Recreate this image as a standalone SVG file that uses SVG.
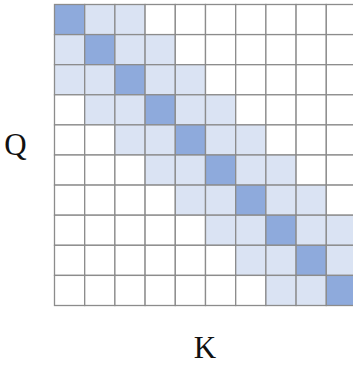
<svg xmlns="http://www.w3.org/2000/svg" width="353" height="368" viewBox="0 0 353 368">
<style>
.c{stroke:#8c8c8c;stroke-width:1.3;fill:#ffffff}
.l{fill:#dae3f3}
.d{fill:#8eaadc}
.t{font-family:"Liberation Serif","Times New Roman",serif;font-size:31px;fill:#111;text-anchor:middle}
</style>
<rect width="353" height="368" fill="#ffffff"/>
<g id="grid">
<g id="row0"><rect class="c d" x="54.5" y="4.5" width="30.2" height="30.1"/><rect class="c l" x="84.7" y="4.5" width="30.2" height="30.1"/><rect class="c l" x="114.9" y="4.5" width="30.2" height="30.1"/><rect class="c" x="145.1" y="4.5" width="30.2" height="30.1"/><rect class="c" x="175.3" y="4.5" width="30.2" height="30.1"/><rect class="c" x="205.5" y="4.5" width="30.2" height="30.1"/><rect class="c" x="235.7" y="4.5" width="30.2" height="30.1"/><rect class="c" x="265.9" y="4.5" width="30.2" height="30.1"/><rect class="c" x="296.1" y="4.5" width="30.2" height="30.1"/><rect class="c" x="326.3" y="4.5" width="30.2" height="30.1"/></g>
<g id="row1"><rect class="c l" x="54.5" y="34.6" width="30.2" height="30.1"/><rect class="c d" x="84.7" y="34.6" width="30.2" height="30.1"/><rect class="c l" x="114.9" y="34.6" width="30.2" height="30.1"/><rect class="c l" x="145.1" y="34.6" width="30.2" height="30.1"/><rect class="c" x="175.3" y="34.6" width="30.2" height="30.1"/><rect class="c" x="205.5" y="34.6" width="30.2" height="30.1"/><rect class="c" x="235.7" y="34.6" width="30.2" height="30.1"/><rect class="c" x="265.9" y="34.6" width="30.2" height="30.1"/><rect class="c" x="296.1" y="34.6" width="30.2" height="30.1"/><rect class="c" x="326.3" y="34.6" width="30.2" height="30.1"/></g>
<g id="row2"><rect class="c l" x="54.5" y="64.7" width="30.2" height="30.1"/><rect class="c l" x="84.7" y="64.7" width="30.2" height="30.1"/><rect class="c d" x="114.9" y="64.7" width="30.2" height="30.1"/><rect class="c l" x="145.1" y="64.7" width="30.2" height="30.1"/><rect class="c l" x="175.3" y="64.7" width="30.2" height="30.1"/><rect class="c" x="205.5" y="64.7" width="30.2" height="30.1"/><rect class="c" x="235.7" y="64.7" width="30.2" height="30.1"/><rect class="c" x="265.9" y="64.7" width="30.2" height="30.1"/><rect class="c" x="296.1" y="64.7" width="30.2" height="30.1"/><rect class="c" x="326.3" y="64.7" width="30.2" height="30.1"/></g>
<g id="row3"><rect class="c" x="54.5" y="94.8" width="30.2" height="30.1"/><rect class="c l" x="84.7" y="94.8" width="30.2" height="30.1"/><rect class="c l" x="114.9" y="94.8" width="30.2" height="30.1"/><rect class="c d" x="145.1" y="94.8" width="30.2" height="30.1"/><rect class="c l" x="175.3" y="94.8" width="30.2" height="30.1"/><rect class="c l" x="205.5" y="94.8" width="30.2" height="30.1"/><rect class="c" x="235.7" y="94.8" width="30.2" height="30.1"/><rect class="c" x="265.9" y="94.8" width="30.2" height="30.1"/><rect class="c" x="296.1" y="94.8" width="30.2" height="30.1"/><rect class="c" x="326.3" y="94.8" width="30.2" height="30.1"/></g>
<g id="row4"><rect class="c" x="54.5" y="124.9" width="30.2" height="30.1"/><rect class="c" x="84.7" y="124.9" width="30.2" height="30.1"/><rect class="c l" x="114.9" y="124.9" width="30.2" height="30.1"/><rect class="c l" x="145.1" y="124.9" width="30.2" height="30.1"/><rect class="c d" x="175.3" y="124.9" width="30.2" height="30.1"/><rect class="c l" x="205.5" y="124.9" width="30.2" height="30.1"/><rect class="c l" x="235.7" y="124.9" width="30.2" height="30.1"/><rect class="c" x="265.9" y="124.9" width="30.2" height="30.1"/><rect class="c" x="296.1" y="124.9" width="30.2" height="30.1"/><rect class="c" x="326.3" y="124.9" width="30.2" height="30.1"/></g>
<g id="row5"><rect class="c" x="54.5" y="155" width="30.2" height="30.1"/><rect class="c" x="84.7" y="155" width="30.2" height="30.1"/><rect class="c" x="114.9" y="155" width="30.2" height="30.1"/><rect class="c l" x="145.1" y="155" width="30.2" height="30.1"/><rect class="c l" x="175.3" y="155" width="30.2" height="30.1"/><rect class="c d" x="205.5" y="155" width="30.2" height="30.1"/><rect class="c l" x="235.7" y="155" width="30.2" height="30.1"/><rect class="c l" x="265.9" y="155" width="30.2" height="30.1"/><rect class="c" x="296.1" y="155" width="30.2" height="30.1"/><rect class="c" x="326.3" y="155" width="30.2" height="30.1"/></g>
<g id="row6"><rect class="c" x="54.5" y="185.1" width="30.2" height="30.1"/><rect class="c" x="84.7" y="185.1" width="30.2" height="30.1"/><rect class="c" x="114.9" y="185.1" width="30.2" height="30.1"/><rect class="c" x="145.1" y="185.1" width="30.2" height="30.1"/><rect class="c l" x="175.3" y="185.1" width="30.2" height="30.1"/><rect class="c l" x="205.5" y="185.1" width="30.2" height="30.1"/><rect class="c d" x="235.7" y="185.1" width="30.2" height="30.1"/><rect class="c l" x="265.9" y="185.1" width="30.2" height="30.1"/><rect class="c l" x="296.1" y="185.1" width="30.2" height="30.1"/><rect class="c" x="326.3" y="185.1" width="30.2" height="30.1"/></g>
<g id="row7"><rect class="c" x="54.5" y="215.2" width="30.2" height="30.1"/><rect class="c" x="84.7" y="215.2" width="30.2" height="30.1"/><rect class="c" x="114.9" y="215.2" width="30.2" height="30.1"/><rect class="c" x="145.1" y="215.2" width="30.2" height="30.1"/><rect class="c" x="175.3" y="215.2" width="30.2" height="30.1"/><rect class="c l" x="205.5" y="215.2" width="30.2" height="30.1"/><rect class="c l" x="235.7" y="215.2" width="30.2" height="30.1"/><rect class="c d" x="265.9" y="215.2" width="30.2" height="30.1"/><rect class="c l" x="296.1" y="215.2" width="30.2" height="30.1"/><rect class="c l" x="326.3" y="215.2" width="30.2" height="30.1"/></g>
<g id="row8"><rect class="c" x="54.5" y="245.3" width="30.2" height="30.1"/><rect class="c" x="84.7" y="245.3" width="30.2" height="30.1"/><rect class="c" x="114.9" y="245.3" width="30.2" height="30.1"/><rect class="c" x="145.1" y="245.3" width="30.2" height="30.1"/><rect class="c" x="175.3" y="245.3" width="30.2" height="30.1"/><rect class="c" x="205.5" y="245.3" width="30.2" height="30.1"/><rect class="c l" x="235.7" y="245.3" width="30.2" height="30.1"/><rect class="c l" x="265.9" y="245.3" width="30.2" height="30.1"/><rect class="c d" x="296.1" y="245.3" width="30.2" height="30.1"/><rect class="c l" x="326.3" y="245.3" width="30.2" height="30.1"/></g>
<g id="row9"><rect class="c" x="54.5" y="275.4" width="30.2" height="30.1"/><rect class="c" x="84.7" y="275.4" width="30.2" height="30.1"/><rect class="c" x="114.9" y="275.4" width="30.2" height="30.1"/><rect class="c" x="145.1" y="275.4" width="30.2" height="30.1"/><rect class="c" x="175.3" y="275.4" width="30.2" height="30.1"/><rect class="c" x="205.5" y="275.4" width="30.2" height="30.1"/><rect class="c" x="235.7" y="275.4" width="30.2" height="30.1"/><rect class="c l" x="265.9" y="275.4" width="30.2" height="30.1"/><rect class="c l" x="296.1" y="275.4" width="30.2" height="30.1"/><rect class="c d" x="326.3" y="275.4" width="30.2" height="30.1"/></g>
</g>
<g id="labels">
<text id="labelQ" class="t" x="15.5" y="155">Q</text>
<text id="labelK" class="t" x="205" y="358">K</text>
</g>
</svg>
